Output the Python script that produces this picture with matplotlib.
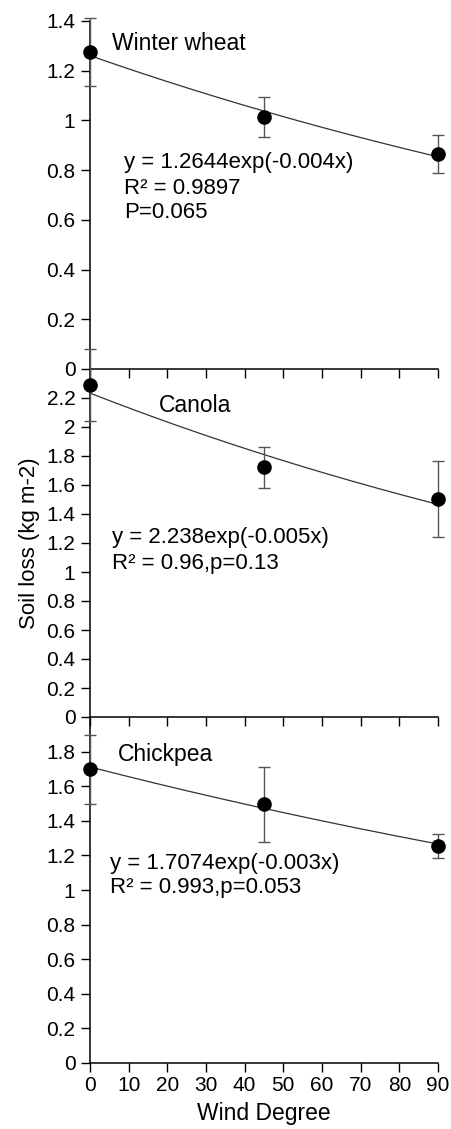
import numpy as np
import matplotlib.pyplot as plt

plt.rcParams['font.family'] = ['Liberation Sans', 'DejaVu Sans']

wind = [0, 45, 90]

crops = ["Winter wheat", "Canola", "Chickpea"]
wheat_loss = [1.276, 1.013, 0.864]
wheat_err = [0.138, 0.081, 0.076]
canola_loss = [2.29, 1.722, 1.503]
canola_err = [0.25, 0.14, 0.265]
chickpea_loss = [1.698, 1.495, 1.256]
chickpea_err = [0.198, 0.218, 0.07]

equations = [["y = 1.2644exp(-0.004x)", "R\u00b2 = 0.9897", "P=0.065"],
             ["y = 2.238exp(-0.005x)", "R\u00b2 = 0.96,p=0.13"],
             ["y = 1.7074exp(-0.003x)", "R\u00b2 = 0.993,p=0.053"]]

ylims = [1.4, 2.4, 2.0]
yticks = [np.arange(0, 1.41, 0.2), np.arange(0, 2.21, 0.2), np.arange(0, 1.81, 0.2)]

# axes boxes in figure fractions (from the reference pixel layout)
W, H = 451, 1129
boxes = [(21, 369), (369, 717), (717, 1063)]
label_pos = [(112, 43), (159, 405), (118, 755)]
eq_pos = [(124, 163), (112, 538), (110, 863)]

fig = plt.figure(figsize=(W / 100, H / 100), dpi=100)

series = [(wheat_loss, wheat_err), (canola_loss, canola_err), (chickpea_loss, chickpea_err)]

for i, (loss, err) in enumerate(series):
    top, bot = boxes[i]
    ax = fig.add_axes([90 / W, 1 - bot / H, 348 / W, (bot - top) / H])
    ax.patch.set_alpha(0)

    # exponential trendline fitted on the points (log-linear, like Excel)
    b, a = np.polyfit(wind, np.log(loss), 1)
    xs = np.linspace(0, 90, 200)
    ax.plot(xs, np.exp(a) * np.exp(b * xs), color='#333333', lw=0.9, zorder=2)

    eb = ax.errorbar(wind, loss, yerr=err, fmt='o', color='black', ms=9.5,
                     ecolor='#555555', elinewidth=1.0, capsize=4.5, capthick=1.0,
                     zorder=3, clip_on=False)
    for art in eb.lines[1] + eb.lines[2]:
        art.set_clip_on(False)

    ax.set_xlim(0, 90)
    ax.set_ylim(0, ylims[i])
    ax.set_xticks(np.arange(0, 91, 10))
    ax.set_yticks(yticks[i])
    ax.set_yticklabels(['%g' % round(v, 1) for v in yticks[i]])
    ax.spines['top'].set_visible(False)
    ax.spines['right'].set_visible(False)
    for s in ['left', 'bottom']:
        ax.spines[s].set_linewidth(1.1)
    ax.tick_params(direction='out', length=6.5, width=1.0, labelsize=15, pad=4)
    if i < 2:
        ax.tick_params(axis='x', labelbottom=False)
    else:
        ax.tick_params(axis='x', pad=3)
        ax.set_xlabel("Wind Degree", fontsize=16.5, labelpad=5)

    lx, ly = label_pos[i]
    fig.text(lx / W, 1 - ly / H, crops[i], fontsize=16.5, va='center', ha='left')
    ex, ey = eq_pos[i]
    for k, line in enumerate(equations[i]):
        fig.text(ex / W, 1 - (ey + 25 * k) / H, line, fontsize=16, va='center', ha='left')

fig.text(30 / W, 1 - 543 / H, "Soil loss (kg m-2)", fontsize=16, rotation=90,
         va='center', ha='center')

fig.savefig('out.png', dpi=100)
